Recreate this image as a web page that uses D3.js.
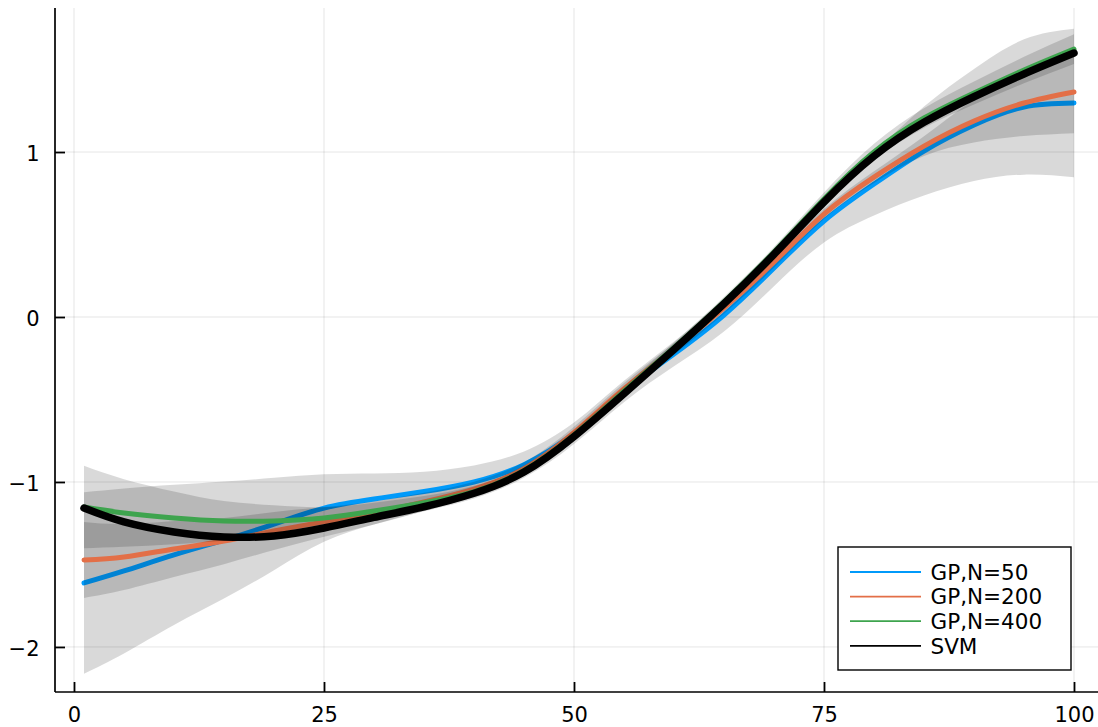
<!DOCTYPE html>
<html>
<head>
<meta charset="utf-8">
<script src="https://cdn.jsdelivr.net/npm/d3@7"></script>
<style>
  html, body { margin: 0; padding: 0; background: #fff; }
  svg { display: block; font-family: "DejaVu Sans", sans-serif; }
</style>
</head>
<body>
<svg id="chart" width="1098" height="727"></svg>
<script>
// ---- data ----
const xs = [1, 5, 10, 15, 20, 25, 30, 35, 40, 45, 50, 55, 60, 65, 70, 75, 80, 85, 90, 95, 100];

const gp50Mean  = [-1.612, -1.539, -1.442, -1.352, -1.255, -1.158, -1.103, -1.058, -1.000, -0.895, -0.705, -0.452, -0.224, 0.012, 0.297, 0.582, 0.806, 1.006, 1.164, 1.273, 1.297];
const gp50Std   = [0.55, 0.50, 0.425, 0.355, 0.28, 0.205, 0.155, 0.12, 0.10, 0.08, 0.065, 0.065, 0.075, 0.10, 0.11, 0.13, 0.19, 0.27, 0.34, 0.41, 0.45];

const gp200Mean = [-1.473, -1.455, -1.406, -1.358, -1.297, -1.242, -1.188, -1.121, -1.043, -0.920, -0.700, -0.435, -0.194, 0.055, 0.333, 0.624, 0.848, 1.036, 1.188, 1.297, 1.364];
const gp200Std  = [0.23, 0.20, 0.17, 0.14, 0.115, 0.09, 0.07, 0.055, 0.045, 0.04, 0.035, 0.035, 0.035, 0.035, 0.035, 0.03, 0.035, 0.06, 0.13, 0.20, 0.25];

const gp400Mean = [-1.152, -1.188, -1.218, -1.236, -1.236, -1.218, -1.176, -1.125, -1.058, -0.930, -0.715, -0.450, -0.185, 0.092, 0.394, 0.715, 1.000, 1.206, 1.358, 1.497, 1.624];
const gp400Std  = [0.25, 0.205, 0.16, 0.12, 0.095, 0.065, 0.05, 0.04, 0.035, 0.03, 0.03, 0.03, 0.03, 0.03, 0.03, 0.04, 0.05, 0.06, 0.07, 0.08, 0.09];

const svmMean   = [-1.158, -1.242, -1.303, -1.333, -1.327, -1.279, -1.215, -1.150, -1.068, -0.940, -0.725, -0.465, -0.197, 0.080, 0.380, 0.697, 0.975, 1.180, 1.335, 1.473, 1.600];

const seriesNames = ["GP,N=50", "GP,N=200", "GP,N=400", "SVM"];
const seriesColors = ["#009AFA", "#E36F47", "#3EA44E", "#000000"];
const xTicks = [0, 25, 50, 75, 100];
const yTicks = [-2, -1, 0, 1];

// ---- layout ----
const svg = d3.select("#chart");
const mLeft = 55, mRight = 1098, mTop = 8, mBottom = 692;
const x = d3.scaleLinear().domain([-1.9, 102.4]).range([mLeft, mRight]);
const y = d3.scaleLinear().domain([-2.273, 1.873]).range([mBottom, mTop]);

// grid
const grid = svg.append("g");
grid.selectAll("line.vx").data(xTicks).join("line")
  .attr("x1", d => x(d)).attr("x2", d => x(d))
  .attr("y1", mTop).attr("y2", mBottom)
  .attr("stroke", "rgba(0,0,0,0.1)").attr("stroke-width", 1);
grid.selectAll("line.hy").data(yTicks).join("line")
  .attr("x1", mLeft).attr("x2", mRight)
  .attr("y1", d => y(d)).attr("y2", d => y(d))
  .attr("stroke", "rgba(0,0,0,0.1)").attr("stroke-width", 1);

// series
const series = [
  { mean: gp50Mean, std: gp50Std, width: 5 },
  { mean: gp200Mean, std: gp200Std, width: 5 },
  { mean: gp400Mean, std: gp400Std, width: 5 },
  { mean: svmMean, std: null, width: 7.5 }
];

const curve = d3.curveNatural;
const plot = svg.append("g");
series.forEach((s, i) => {
  if (s.std) {
    const area = d3.area()
      .x((d, j) => x(xs[j]))
      .y0((d, j) => y(s.mean[j] - s.std[j]))
      .y1((d, j) => y(s.mean[j] + s.std[j]))
      .curve(curve);
    plot.append("path").datum(s.mean)
      .attr("d", area)
      .attr("fill", "#000").attr("fill-opacity", 0.15).attr("stroke", "none");
  }
  const line = d3.line()
    .x((d, j) => x(xs[j]))
    .y(d => y(d))
    .curve(curve);
  plot.append("path").datum(s.mean)
    .attr("d", line)
    .attr("fill", "none")
    .attr("stroke", seriesColors[i])
    .attr("stroke-width", s.width)
    .attr("stroke-linecap", "round")
    .attr("stroke-linejoin", "round");
});

// axes
const fmt = d3.format("d");
const yAxis = d3.axisLeft(y).tickValues(yTicks).tickFormat(fmt)
  .tickSizeInner(-10).tickSizeOuter(0).tickPadding(15.5);
const gy = svg.append("g").attr("transform", `translate(${mLeft},0)`).call(yAxis);
gy.select(".domain").remove();
gy.append("line").attr("x1", 0).attr("x2", 0).attr("y1", mTop).attr("y2", mBottom)
  .attr("stroke", "#000").attr("stroke-width", 1.7);
gy.selectAll(".tick line").attr("stroke", "#000").attr("stroke-width", 1.8);
gy.selectAll(".tick text").attr("font-size", 21).attr("fill", "#000").attr("dy", "0.4em")
  .attr("font-family", "DejaVu Sans, sans-serif");

const xAxis = d3.axisBottom(x).tickValues(xTicks).tickFormat(fmt)
  .tickSizeInner(-10).tickSizeOuter(0).tickPadding(15);
const gx = svg.append("g").attr("transform", `translate(0,${mBottom})`).call(xAxis);
gx.select(".domain").remove();
gx.append("line").attr("x1", mLeft).attr("x2", mRight).attr("y1", 0).attr("y2", 0)
  .attr("stroke", "#000").attr("stroke-width", 1.7);
gx.selectAll(".tick line").attr("stroke", "#000").attr("stroke-width", 1.8);
gx.selectAll(".tick text").attr("font-size", 21).attr("fill", "#000")
  .attr("font-family", "DejaVu Sans, sans-serif");

// legend
const lg = svg.append("g").attr("transform", "translate(838,547)");
lg.append("rect").attr("x", 0).attr("y", 0).attr("width", 233).attr("height", 123)
  .attr("fill", "#fff").attr("stroke", "#000").attr("stroke-width", 1.4);
seriesNames.forEach((name, i) => {
  const yy = 25 + i * 24.6;
  lg.append("line").attr("x1", 12).attr("x2", 83).attr("y1", yy).attr("y2", yy)
    .attr("stroke", seriesColors[i]).attr("stroke-width", 1.8);
  lg.append("text").attr("x", 92.5).attr("y", yy).attr("dy", "0.36em")
    .attr("font-size", 21.5).attr("fill", "#000").text(name);
});
</script>
</body>
</html>
